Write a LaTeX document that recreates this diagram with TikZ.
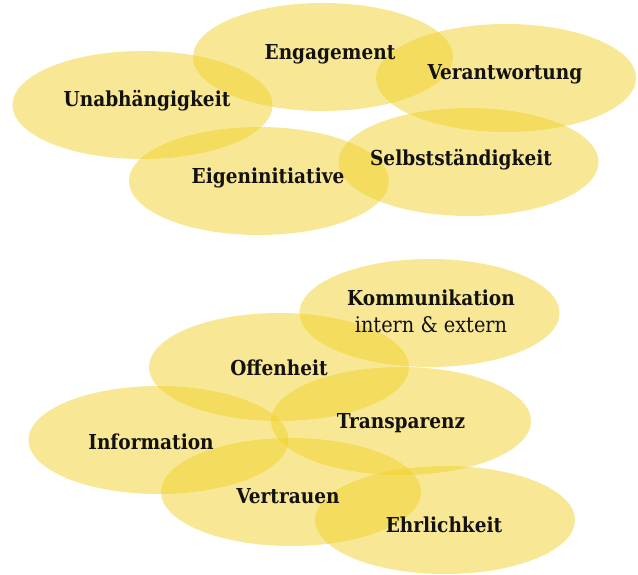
\documentclass[tikz,border=0pt]{standalone}
\usepackage{fontspec}
\setmainfont{DejaVu Serif Condensed}
\definecolor{blob}{RGB}{240,207,35}
\definecolor{ink}{RGB}{20,18,16}
\begin{document}
\begin{tikzpicture}[x=1pt,y=-1pt,
  blobs/.style={fill=blob,fill opacity=0.48,draw=none},
  lbl/.style={text=ink,font=\fontsize{20.6}{24}\selectfont\bfseries,inner sep=0pt,anchor=center},
  sub/.style={text=ink,font=\fontsize{21.5}{24}\selectfont,inner sep=0pt,anchor=center}]
\useasboundingbox (0,0) rectangle (638,575);
% top group
\fill[blobs] (142.5,105) ellipse [x radius=130,y radius=54];
\fill[blobs] (323,57) ellipse [x radius=130,y radius=54];
\fill[blobs] (506,78) ellipse [x radius=130,y radius=54];
\fill[blobs] (468.5,162) ellipse [x radius=130,y radius=54];
\fill[blobs] (259,181) ellipse [x radius=130,y radius=54];
% bottom group
\fill[blobs] (429.5,313) ellipse [x radius=130,y radius=54];
\fill[blobs] (279,367) ellipse [x radius=130,y radius=54];
\fill[blobs] (401,421) ellipse [x radius=130,y radius=54];
\fill[blobs] (158.5,440) ellipse [x radius=130,y radius=54];
\fill[blobs] (291,492) ellipse [x radius=130,y radius=54];
\fill[blobs] (445,520) ellipse [x radius=130,y radius=54];
% labels
\node[lbl] (eng) at (330,54) {Engagement};
\node[lbl] (una) at (147,101) {Unabhängigkeit};
\node[lbl] (ver) at (505,74) {Verantwortung};
\node[lbl] (sel) at (461,160) {Selbstständigkeit};
\node[lbl] (eig) at (268,178) {Eigeninitiative};
\node[lbl] (kom) at (431,298) {Kommunikation};
\node[sub] (kom2) at (431,325) {intern \& extern};
\node[lbl] (off) at (279,368) {Offenheit};
\node[lbl] (tra) at (401,423) {Transparenz};
\node[lbl] (inf) at (151,442) {Information};
\node[lbl] (vtr) at (288,496) {Vertrauen};
\node[lbl] (ehr) at (444,525) {Ehrlichkeit};
\end{tikzpicture}
\end{document}
